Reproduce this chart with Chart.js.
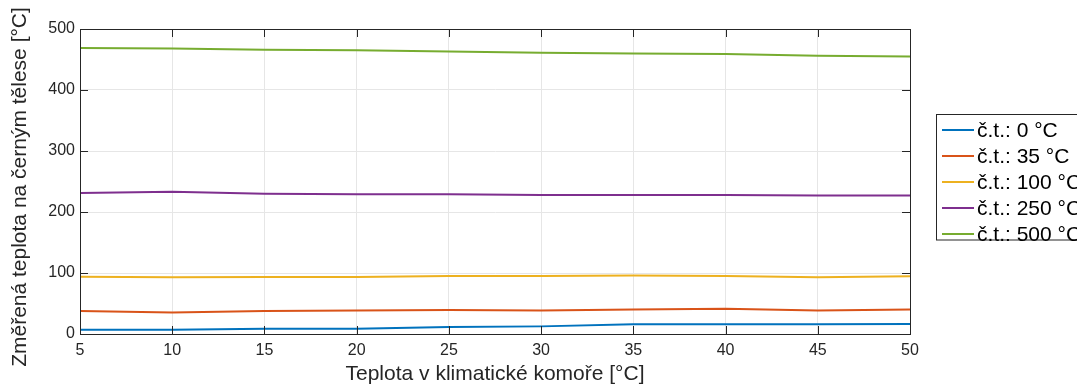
<!DOCTYPE html>
<html>
<head>
<meta charset="utf-8">
<script src="https://cdn.jsdelivr.net/npm/chart.js@4"></script>
<style>
  body { margin: 0; background: #fff; }
  canvas { display: block; }
</style>
</head>
<body>
<canvas id="myChart" width="1077" height="385"></canvas>
<script>
const ctx = document.getElementById('myChart');

const teplotaKomory = [5, 10, 15, 20, 25, 30, 35, 40, 45, 50];
const ct0 = [7, 7, 8.7, 8.7, 11.5, 12.5, 15.8, 15.8, 15.8, 16.4];
const ct35 = [37.7, 35.4, 37.7, 38.7, 39.3, 38.7, 40.3, 41.5, 38.7, 40.3];
const ct100 = [94, 93, 93.5, 93.5, 95, 95, 96, 95, 93, 94.5];
const ct250 = [231, 233, 230, 229, 229, 228, 228, 228, 227, 227];
const ct500 = [469, 468, 466, 465, 463, 461, 460, 459, 456, 455];

const labels = ['č.t.: 0 °C', 'č.t.: 35 °C', 'č.t.: 100 °C', 'č.t.: 250 °C', 'č.t.: 500 °C'];
const colors = ['#0072BD', '#D95319', '#EDB120', '#7E2F8E', '#77AC30'];
const series = [ct0, ct35, ct100, ct250, ct500];
const yTitle = 'Změřená teplota na černým tělese [°C]';

const font = "'Liberation Sans', Arial, sans-serif";
const axisColor = '#262626';

// MATLAB style box + inward ticks + y title + legend with frame
const boxPlugin = {
  id: 'boxPlugin',
  afterDraw(chart) {
    const c = chart.ctx;
    const a = chart.chartArea;
    const xs = chart.scales.x, ys = chart.scales.y;
    c.save();
    c.strokeStyle = axisColor;
    c.lineWidth = 1;
    c.strokeRect(a.left + 0.5, a.top + 0.5, a.right - a.left, a.bottom - a.top);
    const tl = 8;
    c.beginPath();
    xs.ticks.forEach(t => {
      const px = Math.round(xs.getPixelForValue(t.value)) + 0.5;
      c.moveTo(px, a.bottom); c.lineTo(px, a.bottom - tl);
      c.moveTo(px, a.top); c.lineTo(px, a.top + tl);
    });
    ys.ticks.forEach(t => {
      const py = Math.round(ys.getPixelForValue(t.value)) + 0.5;
      c.moveTo(a.left, py); c.lineTo(a.left + tl, py);
      c.moveTo(a.right, py); c.lineTo(a.right - tl, py);
    });
    c.stroke();

    // y title
    c.save();
    c.translate(20, 187);
    c.rotate(-Math.PI / 2);
    c.font = '21px ' + font;
    c.fillStyle = axisColor;
    c.textAlign = 'center';
    c.textBaseline = 'middle';
    c.fillText(yTitle, 0, 0);
    c.restore();

    // legend
    const lx = 936.5, ly = 114.5, lw = 200, lh = 125.5;
    c.fillStyle = '#fff';
    c.fillRect(lx, ly, lw, lh);
    c.strokeStyle = '#262626';
    c.lineWidth = 1;
    c.strokeRect(lx, ly, lw, lh);
    c.font = '21px ' + font;
    c.textBaseline = 'middle';
    chart.data.datasets.forEach((ds, i) => {
      const y = 130 + i * 26;
      c.strokeStyle = ds.borderColor;
      c.lineWidth = 2;
      c.beginPath();
      c.moveTo(942, y); c.lineTo(974, y);
      c.stroke();
      c.fillStyle = '#000';
      c.fillText(ds.label, 977, y + 1);
    });
    c.restore();
  }
};

new Chart(ctx, {
  type: 'line',
  data: {
    datasets: series.map((s, i) => ({
      label: labels[i],
      data: s.map((v, j) => ({ x: teplotaKomory[j], y: v })),
      borderColor: colors[i],
      backgroundColor: colors[i],
      borderWidth: 2,
      pointRadius: 0,
      tension: 0
    }))
  },
  options: {
    responsive: false,
    animation: false,
    layout: { padding: { left: 0, top: 29, right: 167, bottom: 0 } },
    plugins: { legend: { display: false }, tooltip: { enabled: false } },
    scales: {
      x: {
        type: 'linear',
        min: 5,
        max: 50,
        afterFit: (scale) => { scale.height = 51; },
        ticks: { stepSize: 5, padding: 7, color: axisColor, font: { family: font, size: 16 } },
        grid: { color: '#e6e6e6', drawTicks: false },
        border: { color: axisColor },
        title: {
          display: true,
          text: 'Teplota v klimatické komoře [°C]',
          color: axisColor,
          font: { family: font, size: 21, lineHeight: 1 },
          padding: { top: 0, bottom: 0 }
        }
      },
      y: {
        min: 0,
        max: 500,
        afterFit: (scale) => { scale.width = 80; },
        ticks: { stepSize: 100, padding: 5, color: axisColor, font: { family: font, size: 16 } },
        grid: { color: '#e6e6e6', drawTicks: false },
        border: { color: axisColor }
      }
    }
  },
  plugins: [boxPlugin]
});
</script>
</body>
</html>
